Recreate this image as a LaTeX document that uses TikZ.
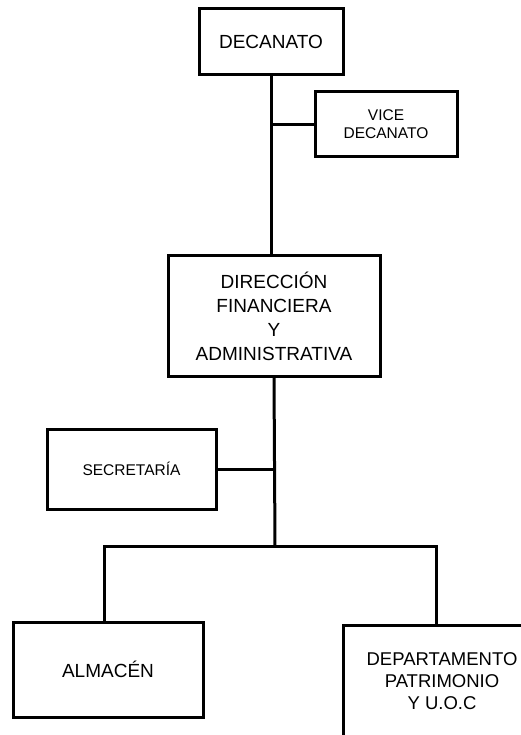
\documentclass[tikz,border=0pt]{standalone}
\usepackage{fontspec}
\setmainfont{Liberation Sans}
\begin{document}
\begin{tikzpicture}[x=1pt,y=-1pt,
  orgbox/.style={draw=black,line width=3pt,fill=white,inner sep=0pt,align=center},
  bigtext/.style={font=\fontsize{19}{24}\selectfont},
  smalltext/.style={font=\fontsize{15.5}{18}\selectfont},
  link/.style={draw=black,line width=3pt}]
\clip (0,0) rectangle (521,735);
\fill[white] (0,0) rectangle (521,735);
% boxes
\node[orgbox,bigtext,minimum width=144pt,minimum height=66pt] (dec) at (271,42) {DECANATO};
\node[orgbox,smalltext,minimum width=142pt,minimum height=65pt] (vice) at (386,124.5) {VICE\\DECANATO};
\node[orgbox,bigtext,minimum width=212pt,minimum height=121pt] (dir) at (274,316) {DIRECCIÓN\\FINANCIERA\\Y\\ADMINISTRATIVA};
\node[orgbox,smalltext,minimum width=169pt,minimum height=80pt] (sec) at (131.5,469) {SECRETARÍA};
\node[orgbox,bigtext,minimum width=190pt,minimum height=95pt] (alm) at (108,669.5) {ALMACÉN};
\node[orgbox,font=\fontsize{18.5}{22}\selectfont,minimum width=198pt,minimum height=112pt] (dept) at (442,681) {DEPARTAMENTO\\PATRIMONIO\\Y U.O.C};
% connectors
\coordinate (bus) at (275,546);
\coordinate (bl) at (104,546);
\coordinate (br) at (436,546);
\draw[link] (dec.south) -- (dec.south |- dir.north);
\draw[link] (vice.west) -- (vice.west -| dec.south);
\draw[link] (dir.south) -- (bus);
\draw[link] (sec.east) -- (sec.east -| dir.south);
\draw[link,line cap=rect] (bl) -- (br);
\draw[link] (bl) -- (bl |- alm.north);
\draw[link] (br) -- (br |- dept.north);
\end{tikzpicture}
\end{document}
